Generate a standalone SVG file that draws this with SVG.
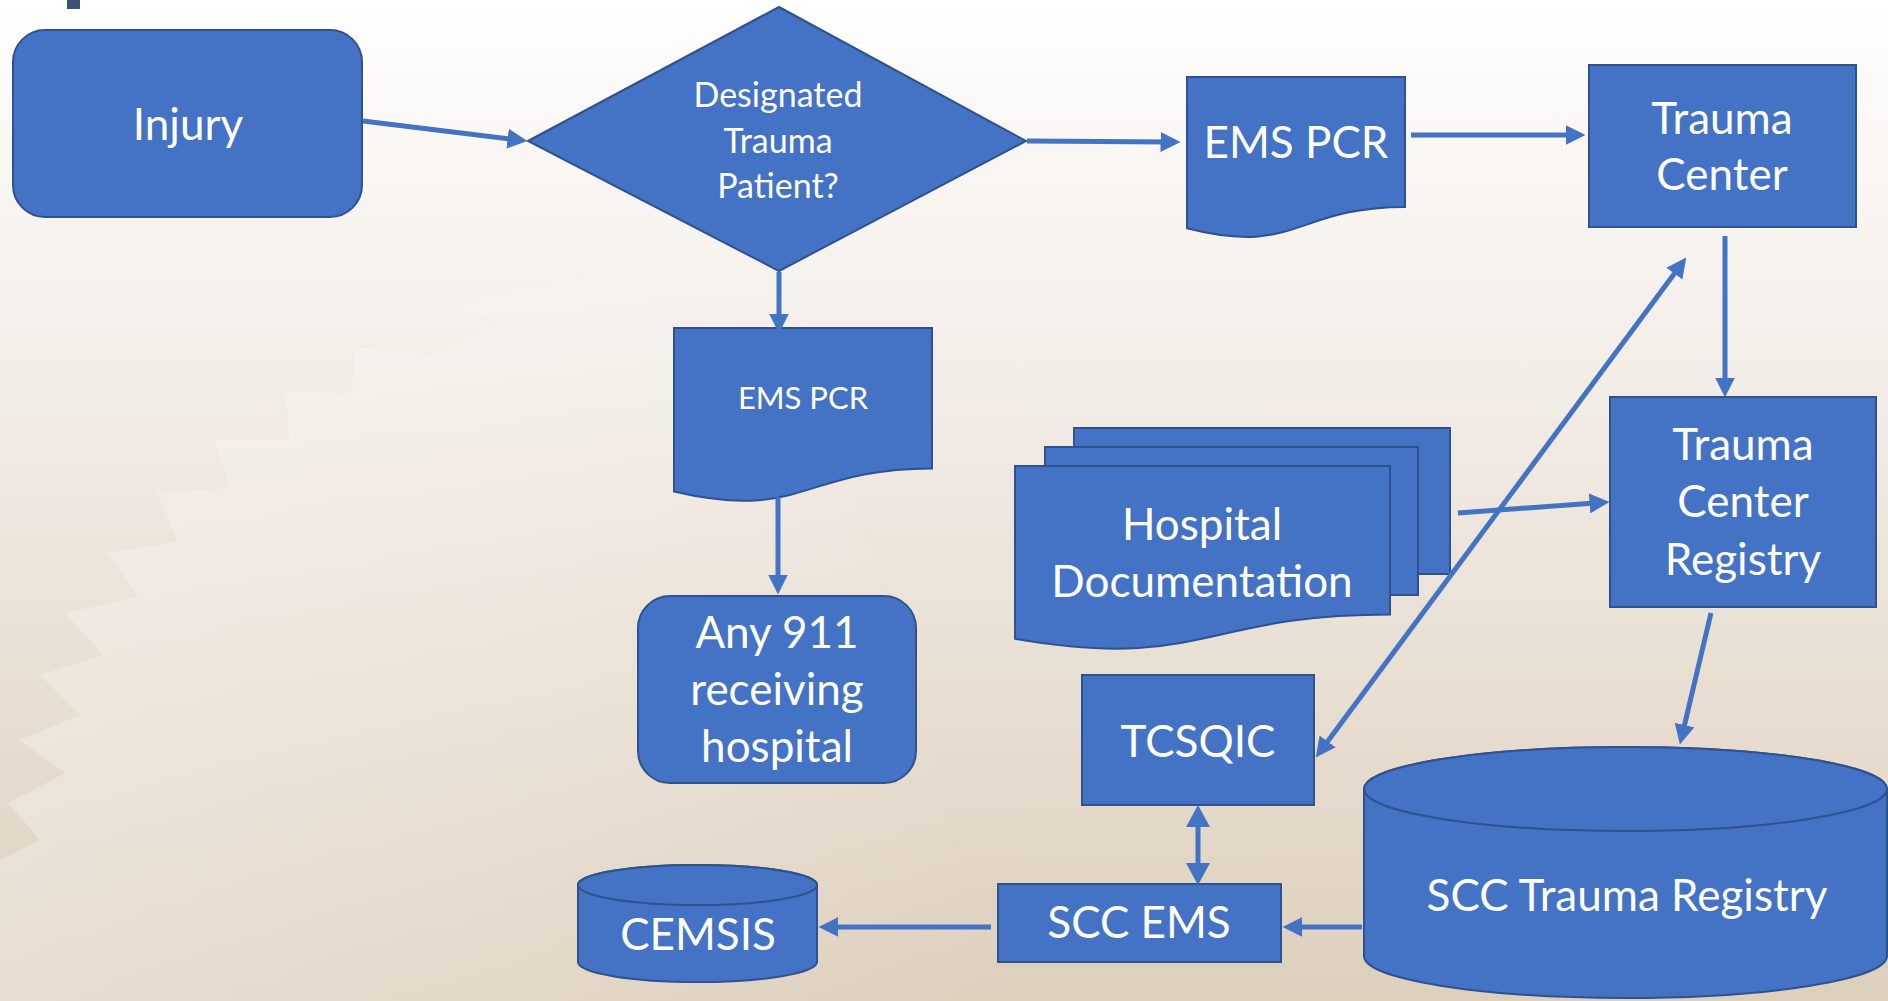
<svg xmlns="http://www.w3.org/2000/svg" width="1888" height="1001" viewBox="0 0 1888 1001">
<defs>
<linearGradient id="bg" x1="0" y1="0" x2="0" y2="1">
<stop offset="0" stop-color="#ffffff"/>
<stop offset="0.1" stop-color="#fbf9f7"/>
<stop offset="0.4" stop-color="#f2ece6"/>
<stop offset="1" stop-color="#ddcfbc"/>
</linearGradient>
<linearGradient id="fade" x1="0" y1="0" x2="1" y2="0">
<stop offset="0" stop-color="#fbf8f5" stop-opacity="0.35"/>
<stop offset="0.5" stop-color="#fbf8f5" stop-opacity="0.2"/>
<stop offset="1" stop-color="#fbf8f5" stop-opacity="0"/>
</linearGradient>
<marker id="ah" markerUnits="userSpaceOnUse" markerWidth="20" markerHeight="20" viewBox="0 0 19 19" refX="9" refY="9.5" orient="auto-start-reverse">
<path d="M0,0 L19,9.5 L0,19 Z" fill="#4472C4"/>
</marker>
<marker id="ah2" markerUnits="userSpaceOnUse" markerWidth="24" markerHeight="24" viewBox="0 0 22 24" refX="10" refY="12" orient="auto-start-reverse">
<path d="M0,0 L22,12 L0,24 Z" fill="#4472C4"/>
</marker>
<style>
.n{fill:#4472C4;stroke:#2F528F;stroke-width:2}
.t{font-family:Lato,"Liberation Sans",sans-serif;fill:#ffffff;text-anchor:middle}
.b{font-size:44px}
.s{font-size:34px}
.s2{font-size:31px}
.c{fill:none;stroke:#4472C4;stroke-width:5}
</style>
</defs>
<rect x="0" y="0" width="1888" height="1001" fill="url(#bg)"/>
<polygon points="436,307 505,320 429,355 356,347 352,395 285,390 289,440 214,440 230,488 157,493 178,542 107,553 138,597 65,613 103,655 40,675 80,715 19,740 65,773 8,803 40,840 0,860 0,1001 1000,1001 800,300 700,250" fill="url(#fade)"/>
<rect x="67" y="0" width="13" height="9" fill="#3d5170"/>

<g id="injury"><rect class="n" x="13" y="30" width="349" height="187" rx="32"/><text class="t b" x="188" y="140">Injury</text></g>
<g id="decision"><polygon class="n" points="528,141 779,7 1026,141 779,271"/><text class="t s" x="778" y="107">Designated</text><text class="t s" x="778" y="153">Trauma</text><text class="t s" x="778" y="198">Patient?</text></g>
<g id="ems-pcr-top"><path class="n" d="M1187,77 H1405 V207 C1296,207 1296,256.4 1187,228.3 Z"/><text class="t b" x="1296" y="158">EMS PCR</text></g>
<g id="trauma-center"><rect class="n" x="1589" y="65" width="267" height="162"/><text class="t b" x="1722" y="134">Trauma</text><text class="t b" x="1722" y="190">Center</text></g>
<g id="tc-registry"><rect class="n" x="1610" y="397" width="266" height="210"/><text class="t b" x="1743" y="460">Trauma</text><text class="t b" x="1743" y="517">Center</text><text class="t b" x="1743" y="575">Registry</text></g>
<g id="hospital-doc"><rect class="n" x="1074" y="428" width="376" height="146"/><rect class="n" x="1045" y="447" width="373" height="148"/><path class="n" d="M1015,466 H1390 V614.4 C1202.5,614.4 1202.5,670.9 1015,638.8 Z"/><text class="t b" x="1202" y="540">Hospital</text><text class="t b" x="1202" y="597">Documentation</text></g>
<g id="ems-pcr-low"><path class="n" d="M674,328 H932 V468.4 C803,468.4 803,521.8 674,491.5 Z"/><text class="t s2" x="803" y="409">EMS PCR</text></g>
<g id="any911"><rect class="n" x="638" y="596" width="278" height="187" rx="32"/><text class="t b" x="777" y="648">Any 911</text><text class="t b" x="777" y="705">receiving</text><text class="t b" x="777" y="762">hospital</text></g>
<g id="tcsqic"><rect class="n" x="1082" y="675" width="232" height="130"/><text class="t b" x="1198" y="757">TCSQIC</text></g>
<g id="scc-ems"><rect class="n" x="998" y="884" width="283" height="78"/><text class="t b" x="1139" y="938">SCC EMS</text></g>
<g id="cemsis"><path class="n" d="M578,885 A119.5,20 0 0 1 817,885 V962 A119.5,20 0 0 1 578,962 Z"/><ellipse class="n" cx="697.5" cy="885" rx="119.5" ry="20"/><text class="t b" x="698" y="950">CEMSIS</text></g>
<g id="scc-trauma-registry"><path class="n" d="M1364,789 A261.5,42 0 0 1 1887,789 V956 A261.5,42 0 0 1 1364,956 Z"/><ellipse class="n" cx="1625.5" cy="789" rx="261.5" ry="42"/><text class="t b" x="1627" y="911">SCC Trauma Registry</text></g>

<g id="connectors">
<line class="c" x1="363" y1="121" x2="517" y2="139.8" marker-end="url(#ah)"/>
<line class="c" x1="1027" y1="141" x2="1170" y2="142" marker-end="url(#ah)"/>
<line class="c" x1="1411" y1="135" x2="1575" y2="135" marker-end="url(#ah)"/>
<line class="c" x1="1725" y1="236" x2="1725" y2="387" marker-end="url(#ah)"/>
<line class="c" x1="1458" y1="513" x2="1599" y2="502.7" marker-end="url(#ah)"/>
<line class="c" x1="1322" y1="749" x2="1680" y2="266" marker-start="url(#ah)" marker-end="url(#ah)"/>
<line class="c" x1="1711" y1="613" x2="1682.3" y2="734.3" marker-end="url(#ah)"/>
<line class="c" x1="1362" y1="927" x2="1293" y2="927" marker-end="url(#ah)"/>
<line class="c" x1="991" y1="927" x2="829" y2="927" marker-end="url(#ah)"/>
<line class="c" x1="1198" y1="817" x2="1198" y2="873" stroke-width="6" marker-start="url(#ah2)" marker-end="url(#ah2)"/>
<line class="c" x1="779" y1="272" x2="779" y2="323" marker-end="url(#ah)"/>
<line class="c" x1="778" y1="497" x2="778" y2="584" marker-end="url(#ah)"/>
</g>
</svg>
